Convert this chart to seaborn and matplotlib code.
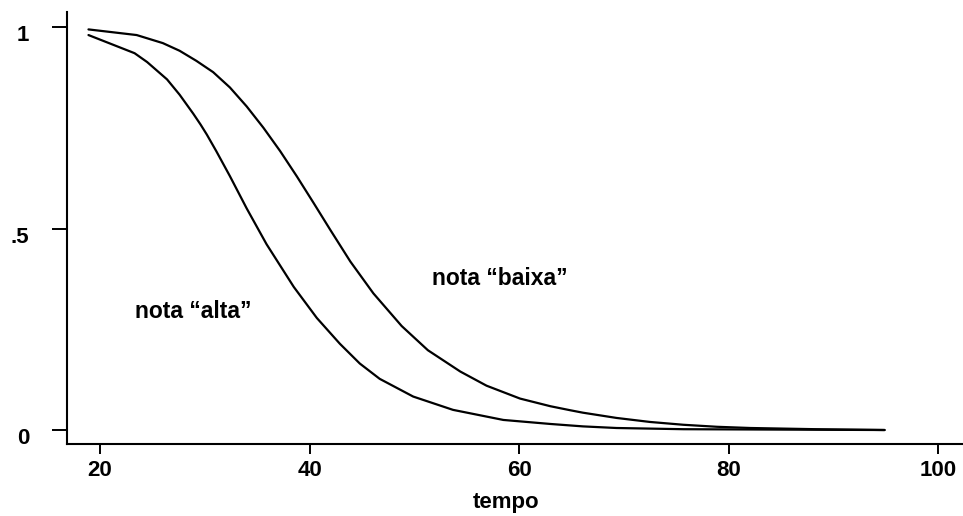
import numpy as np
import pandas as pd
import seaborn as sns
import matplotlib.pyplot as plt
from matplotlib.transforms import ScaledTranslation

# Estimated survival curves for the two groups
tempo_alta = [18.9, 23.3, 24.5, 26.4, 27.6, 28.9, 29.6, 30.2, 31.1, 32.4, 34.0,
              35.9, 38.5, 40.7, 42.9, 44.8, 46.7, 49.9, 53.7, 58.5, 63.0, 66.1,
              69.3, 75.7, 85.2, 94.9]
sobrev_alta = [0.980, 0.935, 0.913, 0.870, 0.832, 0.785, 0.758, 0.733, 0.692,
               0.630, 0.550, 0.461, 0.355, 0.278, 0.214, 0.165, 0.127, 0.083,
               0.050, 0.025, 0.015, 0.009, 0.005, 0.002, 0.001, 0.000]

tempo_baixa = [18.9, 23.5, 26.0, 27.6, 29.2, 30.8, 32.4, 34.0, 35.6, 37.2, 38.8,
               40.4, 42.0, 43.9, 46.1, 48.8, 51.3, 54.4, 56.9, 60.1, 63.0, 64.9,
               66.1, 69.3, 72.5, 75.7, 78.9, 82.1, 88.4, 94.9]
sobrev_baixa = [0.994, 0.980, 0.960, 0.941, 0.916, 0.888, 0.850, 0.803, 0.750,
                0.692, 0.629, 0.563, 0.496, 0.418, 0.339, 0.258, 0.198, 0.145,
                0.110, 0.078, 0.059, 0.049, 0.043, 0.030, 0.020, 0.013, 0.008,
                0.005, 0.002, 0.000]

xticks = [20, 40, 60, 80, 100]
yticks = [0, 0.5, 1]
ytick_labels = ["0", ".5", "1"]

df = pd.concat([
    pd.DataFrame({"tempo": tempo_alta, "sobrev": sobrev_alta, "grupo": "alta"}),
    pd.DataFrame({"tempo": tempo_baixa, "sobrev": sobrev_baixa, "grupo": "baixa"}),
], ignore_index=True)

sns.set_theme(style="ticks")
plt.rcParams["font.family"] = ["Liberation Sans", "DejaVu Sans"]

fig = plt.figure(figsize=(9.63, 5.16), dpi=100)
ax = fig.add_axes([67 / 963, 72 / 516, 895 / 963, 432 / 516])

sns.lineplot(data=df, x="tempo", y="sobrev", hue="grupo",
             palette={"alta": "black", "baixa": "black"},
             estimator=None, sort=False, linewidth=1.6, legend=False, ax=ax)

ax.set_xlim(16.85, 102.29)
ax.set_ylim(-0.0347, 1.0372)
ax.set_xticks(xticks)
ax.set_xticklabels([str(v) for v in xticks])
ax.set_yticks(yticks)
ax.set_yticklabels(ytick_labels)

for side in ("top", "right"):
    ax.spines[side].set_visible(False)
for side in ("left", "bottom"):
    ax.spines[side].set_linewidth(1.5)
    ax.spines[side].set_color("black")

ax.tick_params(axis="y", length=11, width=1.4, pad=16, labelsize=16, colors="black")
ax.tick_params(axis="x", length=7.5, width=1.4, pad=4, labelsize=16, colors="black")
for lab in ax.get_xticklabels() + ax.get_yticklabels():
    lab.set_fontweight("bold")
for lab in ax.get_yticklabels():
    lab.set_transform(lab.get_transform() + ScaledTranslation(0, -6 / 100, fig.dpi_scale_trans))

ax.set_ylabel("")
ax.set_xlabel("tempo", fontsize=16, fontweight="bold", color="black")
ax.xaxis.set_label_coords((506 - 67) / 895, -64 / 432)
ax.xaxis.label.set_va("baseline")

ax.text(28.9, 0.295, "nota \u201calta\u201d", fontsize=16.5, fontweight="bold",
        ha="center", va="center", color="black")
ax.text(58.2, 0.375, "nota \u201cbaixa\u201d", fontsize=16.5, fontweight="bold",
        ha="center", va="center", color="black")

fig.savefig("out.png", dpi=100)
